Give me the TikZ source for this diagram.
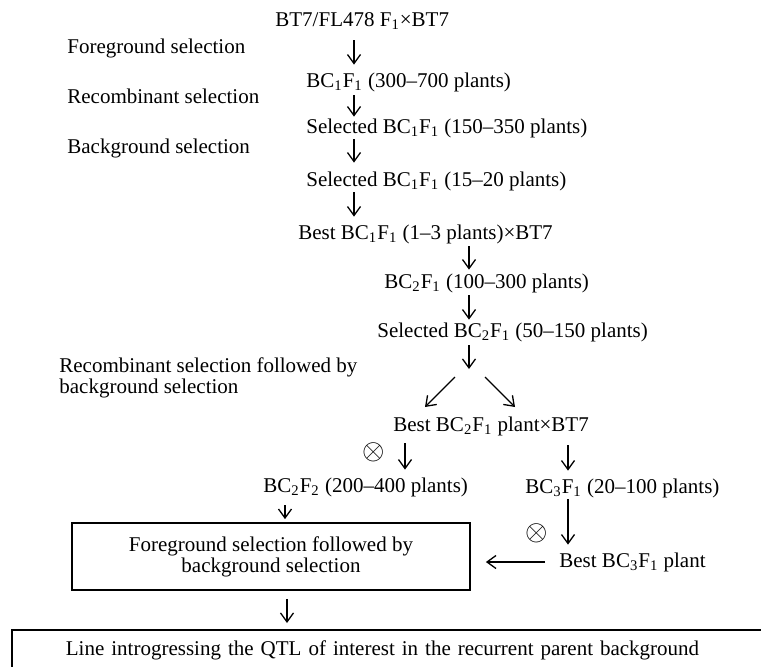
\documentclass[tikz,border=0pt]{standalone}
\usepackage{fontspec}
\setmainfont{Liberation Serif}
\usetikzlibrary{arrows.meta}
\newcommand{\gen}[1]{\textsubscript{#1}}
\tikzset{
  txt/.style = {inner sep=0pt, text height=7pt, text depth=2pt, anchor=base west},
  lab/.style = {inner sep=0pt, anchor=base west},
  selfing/.style = {inner sep=0pt, font=\fontsize{13.5pt}{13.5pt}\selectfont},
  arr/.style = {-{Straight Barb[length=4.5pt,width=6.5pt]}, line width=0.65pt},
  box/.style = {draw, line width=0.9pt, align=center, inner sep=0pt}
}
\begin{document}
\begin{tikzpicture}[x=0.5pt, y=-0.5pt, font=\fontsize{10.5pt}{10.5pt}\selectfont]
\useasboundingbox (0,0) rectangle (761,666);
\clip (0,0) rectangle (761,666);
\foreach \t/\y in {Foreground selection/53, Recombinant selection/103, Background selection/153}
  \node[lab] (lab\y) at (67,\y) {\t};
\node[lab, anchor=north west, align=left] (lab372) at (59,357.6) {Recombinant selection followed by\\background selection};
\node[txt] (r1) at (275,26) {BT7/FL478 F\gen1×BT7};
\node[txt] (r2) at (306,87) {BC\gen1F\gen1 (300--700 plants)};
\node[txt] (r3) at (306,133) {Selected BC\gen1F\gen1 (150--350 plants)};
\node[txt] (r4) at (306,186) {Selected BC\gen1F\gen1 (15--20 plants)};
\node[txt] (r5) at (298,239) {Best BC\gen1F\gen1 (1--3 plants)×BT7};
\node[txt] (r6) at (384,288) {BC\gen2F\gen1 (100--300 plants)};
\node[txt] (r7) at (377,337) {Selected BC\gen2F\gen1 (50--150 plants)};
\node[txt] (r8) at (393,431) {Best BC\gen2F\gen1 plant×BT7};
\node[txt] (r9) at (263,492) {BC\gen2F\gen2 (200--400 plants)};
\node[txt] (r10) at (525,493) {BC\gen3F\gen1 (20--100 plants)};
\node[txt] (r11) at (559,567) {Best BC\gen3F\gen1 plant};
\node[box, minimum width=199pt, minimum height=33.5pt] (fg) at (271,556.5) {Foreground selection followed by\\background selection};
\node[box, anchor=north west, inner xsep=27pt, inner ysep=6pt, text height=7pt, text depth=2pt, text width=360pt, align=left] (res) at (11,629) {Line introgressing the QTL of interest in the recurrent parent background};
\node[selfing] (x1) at (374,452) {$\otimes$};
\node[selfing] (x2) at (537,533) {$\otimes$};
\coordinate (c1) at (354,0);
\coordinate (c2) at (469,0);
\coordinate (c3) at (405,0);
\coordinate (c4) at (568,0);
\coordinate (c5) at (285,0);
\coordinate (c6) at (287,0);
\coordinate (fork) at (469,369);
\coordinate (fl) at (455,377);
\coordinate (fr) at (485,377);
\coordinate (dl) at (425,407);
\coordinate (dr) at (515,407);
\draw[arr, shorten <=5pt, shorten >=4pt] (r1.south -| c1) -- (r2.north -| c1);
\draw[arr, shorten <=2pt, shorten >=1pt] (r2.south -| c1) -- (r3.north -| c1);
\draw[arr, shorten <=1pt, shorten >=4.5pt] (r3.south -| c1) -- (r4.north -| c1);
\draw[arr, shorten <=1pt, shorten >=4pt] (r4.south -| c1) -- (r5.north -| c1);
\draw[arr, shorten <=1.5pt, shorten >=2pt] (r5.south -| c2) -- (r6.north -| c2);
\draw[arr, shorten <=1.5pt, shorten >=1.5pt] (r6.south -| c2) -- (r7.north -| c2);
\draw[arr, shorten <=2pt] (r7.south -| c2) -- (fork);
\draw[arr] (fl) -- (dl);
\draw[arr] (fr) -- (dr);
\draw[arr, shorten <=4pt, shorten >=4pt] (r8.south -| c3) -- (r9.north -| c3);
\draw[arr, shorten <=5pt, shorten >=4pt] (r8.south -| c4) -- (r10.north -| c4);
\draw[arr, shorten <=4.5pt, shorten >=1.5pt] (r9.south -| c5) -- (fg.north -| c5);
\draw[arr, shorten <=1pt, shorten >=4pt] (r10.south -| c4) -- (r11.north -| c4);
\draw[arr, shorten <=7pt, shorten >=7.5pt] (r11.west) -- (fg.east |- r11.west);
\draw[arr, shorten <=4pt, shorten >=3pt] (fg.south -| c6) -- (res.north -| c6);
\end{tikzpicture}
\end{document}
